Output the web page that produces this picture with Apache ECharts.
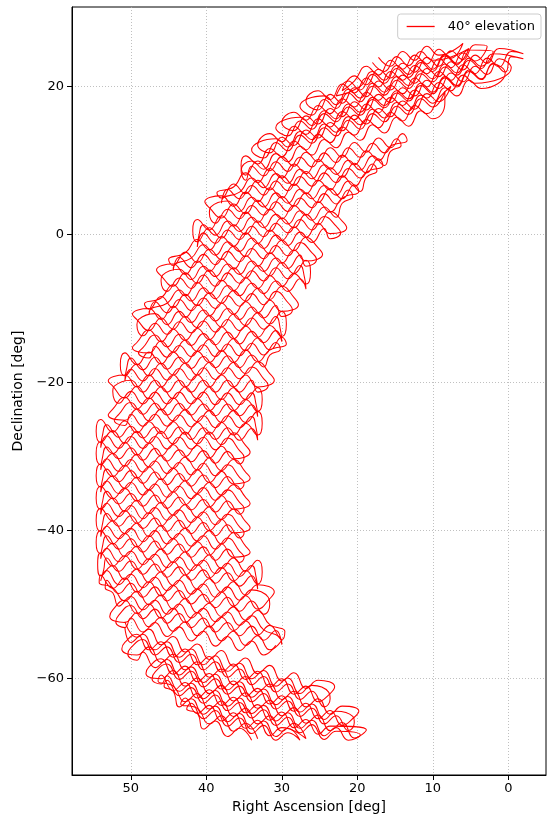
<!DOCTYPE html>
<html><head><meta charset="utf-8">
<script src="https://cdn.jsdelivr.net/npm/echarts@6/dist/echarts.min.js"></script>
<style>html,body{margin:0;padding:0;background:#fff}#c{width:547px;height:819px}</style>
</head><body><div id="c"></div>
<script>
const seriesName = '40° elevation';
const xTicks = [0, 10, 20, 30, 40, 50];
const yTicks = [-60, -40, -20, 0, 20];

// [Right Ascension, Declination] in degrees.
// upper arm of the crescent (first pass)
const topTrack = [
[17.2,23.9],[15.6,22.7],[14.0,24.7],[12.4,23.5],[10.8,25.4],[9.2,24.2],
[6.0,25.8],[7.6,23.8],[9.2,25.0],[10.8,23.0],[12.4,24.2],[14.0,22.3],[15.6,23.5],[17.2,21.5],[18.8,22.7],[20.4,20.7],
[22.0,19.4],[20.4,21.4],[18.8,20.2],[17.2,22.3],[15.6,21.1],[14.0,23.1],[12.4,21.9],[10.8,23.9],[9.2,22.7],[7.6,24.8],[6.0,23.6],[4.4,25.6],
[2.8,25.4],[4.4,23.4],[6.0,24.5],[7.6,22.5],[9.2,23.7],[10.8,21.7],[12.4,22.8],[14.0,20.8],[15.6,22.0],[17.2,19.9],[18.8,21.1],[20.4,19.1],[22.0,20.3],[23.6,18.2],[25.2,19.4],
[26.8,18.0],[25.2,16.8],[23.6,18.9],[22.0,17.7],[20.4,19.8],[18.8,18.6],[17.2,20.7],[15.6,19.5],[14.0,21.5],[12.4,20.4],[10.8,22.4],[9.2,21.3],[7.6,23.3],[6.0,22.2],[4.4,24.2],[2.8,23.1],[1.2,25.1],
[-2.0,24.4],[-0.4,24.7],[1.2,22.6],[2.8,23.8],[4.4,21.7],[6.0,22.9],[7.6,20.8],[9.2,22.0],[10.8,19.9],[12.4,21.1],[14.0,19.0],[15.6,20.1],[17.2,18.1],[18.8,19.2],[20.4,17.2],[22.0,18.3],[23.6,16.3],[25.2,17.4],[26.8,15.4],[28.4,16.5],
[30.0,15.1],[28.4,14.0],[26.8,16.0],[25.2,14.9],[23.6,17.0],[22.0,15.9],[20.4,17.9],[18.8,16.8],[17.2,18.9],[15.6,17.8],[14.0,19.8],[12.4,18.7],[10.8,20.8],[9.2,19.7],[7.6,21.8],[6.0,20.6],[4.4,22.7],[2.8,21.6],[1.2,23.7],[-0.4,22.5],
[4.4,20.4],[6.0,21.5],[7.6,19.4],[9.2,20.5],[10.8,18.4],[12.4,19.5],[14.0,17.4],[15.6,18.5],[17.2,16.4],[18.8,17.6],[20.4,15.5],[22.0,16.6],[23.6,14.5],[25.2,15.6],[26.8,13.5],[28.4,14.6],[30.0,12.5],[31.6,13.6],
[33.2,12.1],[31.6,11.0],[30.0,13.1],[28.4,12.0],[26.8,14.1],[25.2,13.0],[23.6,15.1],[22.0,14.0],[20.4,16.1],[18.8,14.9],[17.2,17.0],[15.6,15.9],[14.0,18.0],[12.4,16.9],[10.8,19.0],[9.2,17.9],[7.6,20.0],
[9.2,18.4],[10.8,16.3],[12.4,17.4],[14.0,15.3],[15.6,16.5],[17.2,14.4],[18.8,15.5],[20.4,13.4],[22.0,14.5],[23.6,12.4],[25.2,13.5],[26.8,11.4],[28.4,12.6],[30.0,10.5],[31.6,11.6],[33.2,9.5],[34.8,10.6]
];

// middle of the crescent (first pass)
const midTrack = [
[35.4,9.3],
[34.8,8.0],[33.2,9.9],[31.6,8.6],[30.0,10.5],[28.4,9.2],[26.8,11.1],[25.2,9.8],[23.6,11.7],[22.0,10.4],[20.4,12.4],[18.8,11.1],[17.2,13.0],[15.6,11.7],[14.0,13.6],
[13.4,12.7],
[15.6,11.9],[17.2,10.0],[18.8,11.3],[20.4,9.4],[22.0,10.7],[23.6,8.8],[25.2,10.1],[26.8,8.2],[28.4,9.5],[30.0,7.6],[31.6,8.9],[33.2,7.0],[34.8,8.3],[36.4,6.4],
[38.6,5.6],
[38.0,4.9],[36.4,6.8],[34.8,5.5],[33.2,7.3],[31.6,6.0],[30.0,7.9],[28.4,6.6],[26.8,8.5],[25.2,7.2],[23.6,9.0],[22.0,7.7],[20.4,9.6],[18.8,8.3],[17.2,10.2],
[16.6,9.3],
[18.8,8.4],[20.4,6.5],[22.0,7.9],[23.6,6.0],[25.2,7.3],[26.8,5.5],[28.4,6.8],[30.0,4.9],[31.6,6.3],[33.2,4.4],[34.8,5.7],[36.4,3.8],[38.0,5.2],
[40.2,4.4],
[39.6,3.6],[38.0,2.2],[36.4,4.1],[34.8,2.8],[33.2,4.6],[31.6,3.3],[30.0,5.1],[28.4,3.8],[26.8,5.6],[25.2,4.3],[23.6,6.2],[22.0,4.8],[20.4,6.7],
[19.8,5.8],
[22.0,4.9],[23.6,3.0],[25.2,4.4],[26.8,2.6],[28.4,3.9],[30.0,2.1],[31.6,3.4],[33.2,1.6],[34.8,3.0],[36.4,1.1],[38.0,2.5],[39.6,0.6],[41.2,2.0],
[41.8,0.5],
[41.2,-1.0],[39.6,0.9],[38.0,-0.5],[36.4,1.3],[34.8,0.0],[33.2,1.8],[31.6,0.4],[30.0,2.2],[28.4,0.9],[26.8,2.7],[25.2,1.3],[23.6,3.1],[22.0,1.8],
[21.4,0.9],
[23.6,0.1],[25.2,1.5],[26.8,-0.4],[28.4,1.0],[30.0,-0.8],[31.6,0.6],[33.2,-1.2],[34.8,0.2],[36.4,-1.6],[38.0,-0.3],[39.6,-2.1],[41.2,-0.7],[42.8,-2.5],
[45.0,-3.4],
[44.4,-4.2],[42.8,-2.4],[41.2,-3.8],[39.6,-2.0],[38.0,-3.4],[36.4,-1.6],[34.8,-3.0],[33.2,-1.2],[31.6,-2.6],[30.0,-0.8],[28.4,-2.2],[26.8,-0.4],[25.2,-1.8],
[24.6,-2.7],
[26.8,-3.6],[28.4,-2.1],[30.0,-3.9],[31.6,-2.5],[33.2,-4.3],[34.8,-2.9],[36.4,-4.7],[38.0,-3.3],[39.6,-5.0],[41.2,-3.6],[42.8,-5.4],[44.4,-4.0],
[46.6,-4.8],
[46.0,-5.6],[44.4,-7.0],[42.8,-5.2],[41.2,-6.6],[39.6,-4.8],[38.0,-6.3],[36.4,-4.5],[34.8,-5.9],[33.2,-4.2],[31.6,-5.6],[30.0,-3.8],[28.4,-5.3],[26.8,-3.5],
[26.2,-5.1],
[26.8,-6.7],[28.4,-5.3],[30.0,-7.0],[31.6,-5.6],[33.2,-7.3],[34.8,-5.9],[36.4,-7.6],[38.0,-6.2],[39.6,-8.0],[41.2,-6.5],[42.8,-8.3],[44.4,-6.8],[46.0,-8.6],
[48.2,-9.4],
[47.6,-10.1],[46.0,-8.4],[44.4,-9.9],[42.8,-8.1],[41.2,-9.6],[39.6,-7.9],[38.0,-9.3],[36.4,-7.6],[34.8,-9.0],[33.2,-7.3],[31.6,-8.8],[30.0,-7.0],[28.4,-8.5],
[27.8,-9.5],
[30.0,-10.4],[31.6,-8.9],[33.2,-10.6],[34.8,-9.1],[36.4,-10.8],[38.0,-9.3],[39.6,-11.0],[41.2,-9.5],[42.8,-11.2],[44.4,-9.7],[46.0,-11.5],[47.6,-10.0],
[49.8,-10.8],
[49.2,-11.5],[47.6,-13.0],[46.0,-11.3],[44.4,-12.8],[42.8,-11.1],[41.2,-12.6],[39.6,-11.0],[38.0,-12.5],[36.4,-10.8],[34.8,-12.3],[33.2,-10.6],[31.6,-12.1],[30.0,-10.4],
[29.4,-12.1],
[30.0,-13.8],[31.6,-12.3],[33.2,-13.9],[34.8,-12.4],[36.4,-14.1],[38.0,-12.5],[39.6,-14.2],[41.2,-12.7],[42.8,-14.3],[44.4,-12.8],[46.0,-14.5],[47.6,-12.9],[49.2,-14.6],
[49.8,-15.3],
[47.6,-16.0],[46.0,-14.4],[44.4,-15.9],[42.8,-14.3],[41.2,-15.8],[39.6,-14.2],[38.0,-15.8],[36.4,-14.1],[34.8,-15.7],[33.2,-14.0],[31.6,-15.6],[30.0,-13.9],
[29.4,-14.8],
[31.6,-15.6],[33.2,-17.2],[34.8,-15.6],[36.4,-17.3],[38.0,-15.7],[39.6,-17.3],[41.2,-15.8],[42.8,-17.4],[44.4,-15.9],[46.0,-17.5],[47.6,-15.9],[49.2,-17.6],[50.8,-16.0],
[51.4,-17.6],
[50.8,-19.1],[49.2,-17.5],[47.6,-19.1],[46.0,-17.4],[44.4,-19.0],[42.8,-17.4],[41.2,-19.0],[39.6,-17.3],[38.0,-18.9],[36.4,-17.3],[34.8,-18.8],[33.2,-17.2],[31.6,-18.8],
[31.0,-19.7],
[33.2,-20.6],[34.8,-19.0],[36.4,-20.6],[38.0,-19.0],[39.6,-20.6],[41.2,-19.0],[42.8,-20.6],[44.4,-19.0],[46.0,-20.6],[47.6,-19.0],[49.2,-20.6],[50.8,-19.0],
[53.0,-19.8],
[52.4,-20.5],[50.8,-22.1],[49.2,-20.5],[47.6,-22.2],[46.0,-20.6],[44.4,-22.2],[42.8,-20.6],[41.2,-22.2],[39.6,-20.6],[38.0,-22.3],[36.4,-20.7],[34.8,-22.3],[33.2,-20.7],
[32.6,-22.3],
[33.2,-23.9],[34.8,-22.3],[36.4,-23.8],[38.0,-22.2],[39.6,-23.8],[41.2,-22.2],[42.8,-23.7],[44.4,-22.1],[46.0,-23.7],[47.6,-22.1],[49.2,-23.6],[50.8,-22.0],[52.4,-23.6],
[53.0,-24.4],
[50.8,-25.1],[49.2,-23.6],[47.6,-25.2],[46.0,-23.6],[44.4,-25.2],[42.8,-23.7],[41.2,-25.3],[39.6,-23.8],[38.0,-25.4],[36.4,-23.8],[34.8,-25.4],[33.2,-23.9],
[32.6,-25.5],
[33.2,-27.1],[34.8,-25.5],[36.4,-27.1],[38.0,-25.4],[39.6,-27.0],[41.2,-25.4],[42.8,-27.0],[44.4,-25.3],[46.0,-26.9],[47.6,-25.3],[49.2,-26.8],[50.8,-25.2],[52.4,-26.7],[54.0,-25.0],
[54.6,-26.6],
[54.0,-28.1],[52.4,-26.5],[50.8,-28.2],[49.2,-26.6],[47.6,-28.2],[46.0,-26.6],[44.4,-28.3],[42.8,-26.7],[41.2,-28.3],[39.6,-26.7],[38.0,-28.4],[36.4,-26.8],[34.8,-28.5],
[34.2,-29.4],
[36.4,-30.3],[38.0,-28.6],[39.6,-30.2],[41.2,-28.5],[42.8,-30.0],[44.4,-28.4],[46.0,-29.9],[47.6,-28.2],[49.2,-29.8],[50.8,-28.1],[52.4,-29.6],[54.0,-28.0],
[54.6,-29.6],
[54.0,-31.1],[52.4,-29.6],[50.8,-31.3],[49.2,-29.7],[47.6,-31.4],[46.0,-29.9],[44.4,-31.6],[42.8,-30.1],[41.2,-31.8],[39.6,-30.2],[38.0,-31.9],[36.4,-30.4],[34.8,-32.1],
[34.2,-32.9],
[36.4,-33.7],[38.0,-32.0],[39.6,-33.5],[41.2,-31.8],[42.8,-33.3],[44.4,-31.6],[46.0,-33.1],[47.6,-31.4],[49.2,-32.9],[50.8,-31.2],[52.4,-32.7],[54.0,-31.0],
[54.6,-32.6],
[54.0,-34.1],[52.4,-32.6],[50.8,-34.3],[49.2,-32.8],[47.6,-34.5],[46.0,-33.0],[44.4,-34.8],[42.8,-33.3],[41.2,-35.0],[39.6,-33.5],[38.0,-35.2],[36.4,-33.8],[34.8,-35.5],
[34.2,-36.3],
[36.4,-37.1],[38.0,-35.3],[39.6,-36.8],[41.2,-35.1],[42.8,-36.5],[44.4,-34.8],[46.0,-36.3],[47.6,-34.5],[49.2,-36.0],[50.8,-34.3],[52.4,-35.7],[54.0,-34.0],
[54.6,-35.6],
[54.0,-37.1],[52.4,-35.6],[50.8,-37.4],[49.2,-35.9],[47.6,-37.7],[46.0,-36.2],[44.4,-37.9],[42.8,-36.5],[41.2,-38.2],[39.6,-36.8],[38.0,-38.5],[36.4,-37.1],[34.8,-38.8],
[34.2,-39.6],
[36.4,-40.3],[38.0,-38.5],[39.6,-40.0],[41.2,-38.2],[42.8,-39.7],[44.4,-37.9],[46.0,-39.4],[47.6,-37.6],[49.2,-39.0],[50.8,-37.3],[52.4,-38.7],[54.0,-37.0],
[54.6,-38.6],
[54.0,-40.1],[52.4,-38.7],[50.8,-40.4],[49.2,-39.0],[47.6,-40.8],[46.0,-39.3],[44.4,-41.1],[42.8,-39.7],[41.2,-41.4],[39.6,-40.0],[38.0,-41.8],[36.4,-40.3],[34.8,-42.1],
[34.2,-42.9],
[36.4,-43.6],[38.0,-41.8],[39.6,-43.3],[41.2,-41.5],[42.8,-42.9],[44.4,-41.1],[46.0,-42.5],[47.6,-40.7],[49.2,-42.2],[50.8,-40.4],[52.4,-41.8],[54.0,-40.0],
[54.6,-41.6],
[54.0,-43.1],[52.4,-41.7],[50.8,-43.5],[49.2,-42.1],[47.6,-43.9],[46.0,-42.5],[44.4,-44.3],[42.8,-42.9],[41.2,-44.7],[39.6,-43.3],[38.0,-45.1],[36.4,-43.7],[34.8,-45.5],[33.2,-44.0],
[32.6,-45.6],
[33.2,-47.2],[34.8,-45.4],[36.4,-46.8],[38.0,-45.0],[39.6,-46.4],[41.2,-44.6],[42.8,-46.0],[44.4,-44.2],[46.0,-45.6],[47.6,-43.8],[49.2,-45.2],[50.8,-43.4],[52.4,-44.8],[54.0,-43.0],
[54.4,-44.6],
[54.0,-46.1],[52.4,-44.7],[50.8,-46.6],[49.2,-45.2],[47.6,-47.0],[46.0,-45.6],[44.4,-47.4],[42.8,-46.0],[41.2,-47.9],[39.6,-46.5],[38.0,-48.3],[36.4,-46.9],[34.8,-48.7],[33.2,-47.3],
[31.0,-48.3],
[31.6,-49.2],[33.2,-50.6],[34.8,-48.8],[36.4,-50.2],[38.0,-48.3],[39.6,-49.7],[41.2,-47.9],[42.8,-49.2],[44.4,-47.4],[46.0,-48.8],[47.6,-46.9],[49.2,-48.3],[50.8,-46.4],[52.4,-47.8],[54.0,-46.0],
[54.2,-47.0],
[52.4,-47.7],[50.8,-49.5],[49.2,-48.2],[47.6,-50.0],[46.0,-48.7],[44.4,-50.6],[42.8,-49.2],[41.2,-51.1],[39.6,-49.8],[38.0,-51.6],[36.4,-50.3],[34.8,-52.1],[33.2,-50.8],[31.6,-52.7],
[29.6,-53.6],
[30.0,-54.7],[31.6,-52.8],[33.2,-54.1],[34.8,-52.2],[36.4,-53.5],[38.0,-51.7],[39.6,-53.0],[41.2,-51.1],[42.8,-52.4],[44.4,-50.5],[46.0,-51.8],[47.6,-49.9],[49.2,-51.2],[50.8,-49.4],[52.4,-50.7],
[52.8,-51.6],
[50.8,-52.4],[49.2,-51.1],[47.6,-53.0],[46.0,-51.7],[44.4,-53.6],[42.8,-52.3],[41.2,-54.2],[39.6,-52.9],[38.0,-54.9],[36.4,-53.6],[34.8,-55.5],[33.2,-54.2],[31.6,-56.1],[30.0,-54.8]
];

// lower arm, converging on the southern tip (first pass)
const bottomTrack = [
[50.8,-52.3],[49.2,-54.4],[47.6,-53.3],[46.0,-55.4],[44.4,-54.3],[42.8,-56.4],[41.2,-55.3],[39.6,-57.4],[38.0,-56.2],[36.4,-58.3],[34.8,-57.2],[33.2,-59.3],[31.6,-58.2],[30.0,-60.3],[28.4,-59.2],[26.8,-61.3],[25.2,-60.2],
[23.0,-61.1],
[23.6,-62.0],[25.2,-63.1],[26.8,-61.0],[28.4,-62.1],[30.0,-60.0],[31.6,-61.1],[33.2,-59.0],[34.8,-60.1],[36.4,-58.0],[38.0,-59.1],[39.6,-57.0],[41.2,-58.1],[42.8,-56.0],[44.4,-57.1],[46.0,-55.0],[47.6,-56.1],[49.2,-54.0],[50.8,-55.1],
[51.2,-56.0],
[49.2,-56.8],[47.6,-55.7],[46.0,-57.8],[44.4,-56.7],[42.8,-58.8],[41.2,-57.7],[39.6,-59.8],[38.0,-58.7],[36.4,-60.8],[34.8,-59.7],[33.2,-61.8],[31.6,-60.7],[30.0,-62.8],[28.4,-61.7],[26.8,-63.8],[25.2,-62.7],[23.6,-64.8],[22.0,-63.7],
[19.8,-64.4],
[20.4,-65.2],[22.0,-66.3],[23.6,-64.3],[25.2,-65.4],[26.8,-63.3],[28.4,-64.4],[30.0,-62.3],[31.6,-63.4],[33.2,-61.3],[34.8,-62.4],[36.4,-60.3],[38.0,-61.4],[39.6,-59.3],[41.2,-60.4],[42.8,-58.3],[44.4,-59.4],[46.0,-57.3],[47.6,-58.4],
[48.0,-59.3],
[46.0,-60.0],[44.4,-58.9],[42.8,-61.0],[41.2,-59.9],[39.6,-62.0],[38.0,-60.9],[36.4,-63.0],[34.8,-61.9],[33.2,-64.0],[31.6,-62.9],[30.0,-65.0],[28.4,-63.9],[26.8,-66.0],[25.2,-64.9],[23.6,-67.0],[22.0,-65.9],[20.4,-68.0],[18.8,-66.9],
[23.6,-66.4],[25.2,-67.5],[26.8,-65.5],[28.4,-66.6],[30.0,-64.5],[31.6,-65.6],[33.2,-63.5],[34.8,-64.6],[36.4,-62.5],[38.0,-63.6],[39.6,-61.5],[41.2,-62.6],[42.8,-60.5],[44.4,-61.6],[46.0,-59.5],
[46.4,-60.3],
[44.4,-61.0],[42.8,-63.1],[41.2,-62.0],[39.6,-64.1],[38.0,-63.0],[36.4,-65.1],[34.8,-64.0],[33.2,-66.1],[31.6,-65.0],[30.0,-67.1],[28.4,-66.0],[26.8,-68.1],
[30.0,-66.6],[31.6,-67.7],[33.2,-65.6],[34.8,-66.7],[36.4,-64.6],[38.0,-65.7],[39.6,-63.6],[41.2,-64.7],[42.8,-62.6],
[43.4,-63.4],
[41.2,-64.0],[39.6,-66.1],[38.0,-65.0],[36.4,-67.1],[34.8,-66.0],[33.2,-68.1]
];

// second, interleaved pass: upper arm
const topTrack2 = [
[18.0,23.2],[16.4,22.0],[14.8,24.0],[13.2,22.8],[11.6,24.7],[10.0,23.5],
[5.2,25.1],[6.8,23.1],[8.4,24.3],[10.0,22.3],[11.6,23.5],[13.2,21.6],[14.8,22.8],[16.4,20.8],[18.0,22.0],[19.6,20.0],
[22.8,18.7],[21.2,20.7],[19.6,19.5],[18.0,21.6],[16.4,20.4],[14.8,22.4],[13.2,21.2],[11.6,23.2],[10.0,22.0],[8.4,24.1],[6.8,22.9],[5.2,24.9],
[2.0,24.7],[3.6,22.7],[5.2,23.8],[6.8,21.8],[8.4,23.0],[10.0,21.0],[11.6,22.1],[13.2,20.1],[14.8,21.3],[16.4,19.2],[18.0,20.4],[19.6,18.4],[21.2,19.6],[22.8,17.5],[24.4,18.7],
[27.6,17.3],[26.0,16.1],[24.4,18.2],[22.8,17.0],[21.2,19.1],[19.6,17.9],[18.0,20.0],[16.4,18.8],[14.8,20.8],[13.2,19.7],[11.6,21.7],[10.0,20.6],[8.4,22.6],[6.8,21.5],[5.2,23.5],[3.6,22.4],[2.0,24.4],
[-2.0,23.7],[-0.4,24.0],[0.4,21.9],[2.0,23.1],[3.6,21.0],[5.2,22.2],[6.8,20.1],[8.4,21.3],[10.0,19.2],[11.6,20.4],[13.2,18.3],[14.8,19.4],[16.4,17.4],[18.0,18.5],[19.6,16.5],[21.2,17.6],[22.8,15.6],[24.4,16.7],[26.0,14.7],[27.6,15.8],
[30.8,14.4],[29.2,13.3],[27.6,15.3],[26.0,14.2],[24.4,16.3],[22.8,15.2],[21.2,17.2],[19.6,16.1],[18.0,18.2],[16.4,17.1],[14.8,19.1],[13.2,18.0],[11.6,20.1],[10.0,19.0],[8.4,21.1],[6.8,19.9],[5.2,22.0],[3.6,20.9],[2.0,23.0],[0.4,21.8],
[3.6,19.7],[5.2,20.8],[6.8,18.7],[8.4,19.8],[10.0,17.7],[11.6,18.8],[13.2,16.7],[14.8,17.8],[16.4,15.7],[18.0,16.9],[19.6,14.8],[21.2,15.9],[22.8,13.8],[24.4,14.9],[26.0,12.8],[27.6,13.9],[29.2,11.8],[30.8,12.9],
[34.0,11.4],[32.4,10.3],[30.8,12.4],[29.2,11.3],[27.6,13.4],[26.0,12.3],[24.4,14.4],[22.8,13.3],[21.2,15.4],[19.6,14.2],[18.0,16.3],[16.4,15.2],[14.8,17.3],[13.2,16.2],[11.6,18.3],[10.0,17.2],[8.4,19.3],
[8.4,17.7],[10.0,15.6],[11.6,16.7],[13.2,14.6],[14.8,15.8],[16.4,13.7],[18.0,14.8],[19.6,12.7],[21.2,13.8],[22.8,11.7],[24.4,12.8],[26.0,10.7],[27.6,11.9],[29.2,9.8],[30.8,10.9],[32.4,8.8],[34.0,9.9]
];

// second pass: middle of the crescent
const midTrack2 = [
[35.4,8.6],
[34.8,7.3],[34.0,9.2],[32.4,7.9],[30.8,9.8],[29.2,8.5],[27.6,10.4],[26.0,9.1],[24.4,11.0],[22.8,9.7],[21.2,11.7],[19.6,10.4],[18.0,12.3],[16.4,11.0],[14.8,12.9],
[14.2,12.0],
[15.6,11.2],[16.4,9.3],[18.0,10.6],[19.6,8.7],[21.2,10.0],[22.8,8.1],[24.4,9.4],[26.0,7.5],[27.6,8.8],[29.2,6.9],[30.8,8.2],[32.4,6.3],[34.0,7.6],[35.6,5.7],
[37.8,4.9],
[38.0,4.2],[37.2,6.1],[35.6,4.8],[34.0,6.6],[32.4,5.3],[30.8,7.2],[29.2,5.9],[27.6,7.8],[26.0,6.5],[24.4,8.3],[22.8,7.0],[21.2,8.9],[19.6,7.6],[18.0,9.5],
[17.4,8.6],
[18.8,7.7],[19.6,5.8],[21.2,7.2],[22.8,5.3],[24.4,6.6],[26.0,4.8],[27.6,6.1],[29.2,4.2],[30.8,5.6],[32.4,3.7],[34.0,5.0],[35.6,3.1],[37.2,4.5],
[39.4,3.7],
[39.6,2.9],[38.8,1.5],[37.2,3.4],[35.6,2.1],[34.0,3.9],[32.4,2.6],[30.8,4.4],[29.2,3.1],[27.6,4.9],[26.0,3.6],[24.4,5.5],[22.8,4.1],[21.2,6.0],
[20.6,5.1],
[22.0,4.2],[22.8,2.3],[24.4,3.7],[26.0,1.9],[27.6,3.2],[29.2,1.4],[30.8,2.7],[32.4,0.9],[34.0,2.3],[35.6,0.4],[37.2,1.8],[38.8,-0.1],[40.4,1.3],
[41.0,-0.2],
[41.2,-1.7],[40.4,0.2],[38.8,-1.2],[37.2,0.6],[35.6,-0.7],[34.0,1.1],[32.4,-0.3],[30.8,1.5],[29.2,0.2],[27.6,2.0],[26.0,0.6],[24.4,2.4],[22.8,1.1],
[22.2,0.2],
[23.6,-0.6],[24.4,0.8],[26.0,-1.1],[27.6,0.3],[29.2,-1.5],[30.8,-0.1],[32.4,-1.9],[34.0,-0.5],[35.6,-2.3],[37.2,-1.0],[38.8,-2.8],[40.4,-1.4],[42.0,-3.2],
[44.2,-4.1],
[44.4,-4.9],[43.6,-3.1],[42.0,-4.5],[40.4,-2.7],[38.8,-4.1],[37.2,-2.3],[35.6,-3.7],[34.0,-1.9],[32.4,-3.3],[30.8,-1.5],[29.2,-2.9],[27.6,-1.1],[26.0,-2.5],
[25.4,-3.4],
[26.8,-4.3],[27.6,-2.8],[29.2,-4.6],[30.8,-3.2],[32.4,-5.0],[34.0,-3.6],[35.6,-5.4],[37.2,-4.0],[38.8,-5.7],[40.4,-4.3],[42.0,-6.1],[43.6,-4.7],
[45.8,-5.5],
[46.0,-6.3],[45.2,-7.7],[43.6,-5.9],[42.0,-7.3],[40.4,-5.5],[38.8,-7.0],[37.2,-5.2],[35.6,-6.6],[34.0,-4.9],[32.4,-6.3],[30.8,-4.5],[29.2,-6.0],[27.6,-4.2],
[27.0,-5.8],
[26.8,-7.4],[27.6,-6.0],[29.2,-7.7],[30.8,-6.3],[32.4,-8.0],[34.0,-6.6],[35.6,-8.3],[37.2,-6.9],[38.8,-8.7],[40.4,-7.2],[42.0,-9.0],[43.6,-7.5],[45.2,-9.3],
[47.4,-10.1],
[47.6,-10.8],[46.8,-9.1],[45.2,-10.6],[43.6,-8.8],[42.0,-10.3],[40.4,-8.6],[38.8,-10.0],[37.2,-8.3],[35.6,-9.7],[34.0,-8.0],[32.4,-9.5],[30.8,-7.7],[29.2,-9.2],
[28.6,-10.2],
[30.0,-11.1],[30.8,-9.6],[32.4,-11.3],[34.0,-9.8],[35.6,-11.5],[37.2,-10.0],[38.8,-11.7],[40.4,-10.2],[42.0,-11.9],[43.6,-10.4],[45.2,-12.2],[46.8,-10.7],
[49.0,-11.5],
[49.2,-12.2],[48.4,-13.7],[46.8,-12.0],[45.2,-13.5],[43.6,-11.8],[42.0,-13.3],[40.4,-11.7],[38.8,-13.2],[37.2,-11.5],[35.6,-13.0],[34.0,-11.3],[32.4,-12.8],[30.8,-11.1],
[30.2,-12.8],
[30.0,-14.5],[30.8,-13.0],[32.4,-14.6],[34.0,-13.1],[35.6,-14.8],[37.2,-13.2],[38.8,-14.9],[40.4,-13.4],[42.0,-15.0],[43.6,-13.5],[45.2,-15.2],[46.8,-13.6],[48.4,-15.3],
[49.0,-16.0],
[47.6,-16.7],[46.8,-15.1],[45.2,-16.6],[43.6,-15.0],[42.0,-16.5],[40.4,-14.9],[38.8,-16.5],[37.2,-14.8],[35.6,-16.4],[34.0,-14.7],[32.4,-16.3],[30.8,-14.6],
[30.2,-15.5],
[31.6,-16.3],[32.4,-17.9],[34.0,-16.3],[35.6,-18.0],[37.2,-16.4],[38.8,-18.0],[40.4,-16.5],[42.0,-18.1],[43.6,-16.6],[45.2,-18.2],[46.8,-16.6],[48.4,-18.3],[50.0,-16.7],
[50.6,-18.3],
[50.8,-19.8],[50.0,-18.2],[48.4,-19.8],[46.8,-18.1],[45.2,-19.7],[43.6,-18.1],[42.0,-19.7],[40.4,-18.0],[38.8,-19.6],[37.2,-18.0],[35.6,-19.5],[34.0,-17.9],[32.4,-19.5],
[31.8,-20.4],
[33.2,-21.3],[34.0,-19.7],[35.6,-21.3],[37.2,-19.7],[38.8,-21.3],[40.4,-19.7],[42.0,-21.3],[43.6,-19.7],[45.2,-21.3],[46.8,-19.7],[48.4,-21.3],[50.0,-19.7],
[52.2,-20.5],
[52.4,-21.2],[51.6,-22.8],[50.0,-21.2],[48.4,-22.9],[46.8,-21.3],[45.2,-22.9],[43.6,-21.3],[42.0,-22.9],[40.4,-21.3],[38.8,-23.0],[37.2,-21.4],[35.6,-23.0],[34.0,-21.4],
[33.4,-23.0],
[33.2,-24.6],[34.0,-23.0],[35.6,-24.5],[37.2,-22.9],[38.8,-24.5],[40.4,-22.9],[42.0,-24.4],[43.6,-22.8],[45.2,-24.4],[46.8,-22.8],[48.4,-24.3],[50.0,-22.7],[51.6,-24.3],
[52.2,-25.1],
[50.8,-25.8],[50.0,-24.3],[48.4,-25.9],[46.8,-24.3],[45.2,-25.9],[43.6,-24.4],[42.0,-26.0],[40.4,-24.5],[38.8,-26.1],[37.2,-24.5],[35.6,-26.1],[34.0,-24.6],
[33.4,-26.2],
[33.2,-27.8],[34.0,-26.2],[35.6,-27.8],[37.2,-26.1],[38.8,-27.7],[40.4,-26.1],[42.0,-27.7],[43.6,-26.0],[45.2,-27.6],[46.8,-26.0],[48.4,-27.5],[50.0,-25.9],[51.6,-27.4],[53.2,-25.7],
[53.8,-27.3],
[54.0,-28.8],[53.2,-27.2],[51.6,-28.9],[50.0,-27.3],[48.4,-28.9],[46.8,-27.3],[45.2,-29.0],[43.6,-27.4],[42.0,-29.0],[40.4,-27.4],[38.8,-29.1],[37.2,-27.5],[35.6,-29.2],
[35.0,-30.1],
[35.6,-31.0],[37.2,-29.3],[38.8,-30.9],[40.4,-29.2],[42.0,-30.7],[43.6,-29.1],[45.2,-30.6],[46.8,-28.9],[48.4,-30.5],[50.0,-28.8],[51.6,-30.3],[53.2,-28.7],
[53.8,-30.3],
[54.0,-31.8],[53.2,-30.3],[51.6,-32.0],[50.0,-30.4],[48.4,-32.1],[46.8,-30.6],[45.2,-32.3],[43.6,-30.8],[42.0,-32.5],[40.4,-30.9],[38.8,-32.6],[37.2,-31.1],[35.6,-32.8],
[35.0,-33.6],
[35.6,-34.4],[37.2,-32.7],[38.8,-34.2],[40.4,-32.5],[42.0,-34.0],[43.6,-32.3],[45.2,-33.8],[46.8,-32.1],[48.4,-33.6],[50.0,-31.9],[51.6,-33.4],[53.2,-31.7],
[53.8,-33.3],
[54.0,-34.8],[53.2,-33.3],[51.6,-35.0],[50.0,-33.5],[48.4,-35.2],[46.8,-33.7],[45.2,-35.5],[43.6,-34.0],[42.0,-35.7],[40.4,-34.2],[38.8,-35.9],[37.2,-34.5],[35.6,-36.2],
[35.0,-37.0],
[35.6,-37.8],[37.2,-36.0],[38.8,-37.5],[40.4,-35.8],[42.0,-37.2],[43.6,-35.5],[45.2,-37.0],[46.8,-35.2],[48.4,-36.7],[50.0,-35.0],[51.6,-36.4],[53.2,-34.7],
[53.8,-36.3],
[54.0,-37.8],[53.2,-36.3],[51.6,-38.1],[50.0,-36.6],[48.4,-38.4],[46.8,-36.9],[45.2,-38.6],[43.6,-37.2],[42.0,-38.9],[40.4,-37.5],[38.8,-39.2],[37.2,-37.8],[35.6,-39.5],
[35.0,-40.3],
[35.6,-41.0],[37.2,-39.2],[38.8,-40.7],[40.4,-38.9],[42.0,-40.4],[43.6,-38.6],[45.2,-40.1],[46.8,-38.3],[48.4,-39.7],[50.0,-38.0],[51.6,-39.4],[53.2,-37.7],
[53.8,-39.3],
[54.0,-40.8],[53.2,-39.4],[51.6,-41.1],[50.0,-39.7],[48.4,-41.5],[46.8,-40.0],[45.2,-41.8],[43.6,-40.4],[42.0,-42.1],[40.4,-40.7],[38.8,-42.5],[37.2,-41.0],[35.6,-42.8],
[35.0,-43.6],
[35.6,-44.3],[37.2,-42.5],[38.8,-44.0],[40.4,-42.2],[42.0,-43.6],[43.6,-41.8],[45.2,-43.2],[46.8,-41.4],[48.4,-42.9],[50.0,-41.1],[51.6,-42.5],[53.2,-40.7],
[53.8,-42.3],
[54.0,-43.8],[53.2,-42.4],[51.6,-44.2],[50.0,-42.8],[48.4,-44.6],[46.8,-43.2],[45.2,-45.0],[43.6,-43.6],[42.0,-45.4],[40.4,-44.0],[38.8,-45.8],[37.2,-44.4],[35.6,-46.2],[34.0,-44.7],
[33.4,-46.3],
[33.2,-47.9],[34.0,-46.1],[35.6,-47.5],[37.2,-45.7],[38.8,-47.1],[40.4,-45.3],[42.0,-46.7],[43.6,-44.9],[45.2,-46.3],[46.8,-44.5],[48.4,-45.9],[50.0,-44.1],[51.6,-45.5],[53.2,-43.7],
[53.6,-45.3],
[54.0,-46.8],[53.2,-45.4],[51.6,-47.3],[50.0,-45.9],[48.4,-47.7],[46.8,-46.3],[45.2,-48.1],[43.6,-46.7],[42.0,-48.6],[40.4,-47.2],[38.8,-49.0],[37.2,-47.6],[35.6,-49.4],[34.0,-48.0],
[31.8,-49.0],
[31.6,-49.9],[32.4,-51.3],[34.0,-49.5],[35.6,-50.9],[37.2,-49.0],[38.8,-50.4],[40.4,-48.6],[42.0,-49.9],[43.6,-48.1],[45.2,-49.5],[46.8,-47.6],[48.4,-49.0],[50.0,-47.1],[51.6,-48.5],[53.2,-46.7],
[53.4,-47.7],
[52.4,-48.4],[51.6,-50.2],[50.0,-48.9],[48.4,-50.7],[46.8,-49.4],[45.2,-51.3],[43.6,-49.9],[42.0,-51.8],[40.4,-50.5],[38.8,-52.3],[37.2,-51.0],[35.6,-52.8],[34.0,-51.5],[32.4,-53.4],
[30.4,-54.3],
[30.0,-55.4],[30.8,-53.5],[32.4,-54.8],[34.0,-52.9],[35.6,-54.2],[37.2,-52.4],[38.8,-53.7],[40.4,-51.8],[42.0,-53.1],[43.6,-51.2],[45.2,-52.5],[46.8,-50.6],[48.4,-51.9],[50.0,-50.1],[51.6,-51.4],
[52.0,-52.3],
[50.8,-53.1],[50.0,-51.8],[48.4,-53.7],[46.8,-52.4],[45.2,-54.3],[43.6,-53.0],[42.0,-54.9],[40.4,-53.6],[38.8,-55.6],[37.2,-54.3],[35.6,-56.2],[34.0,-54.9],[32.4,-56.8],[30.8,-55.5]
];

// second pass: lower arm
const bottomTrack2 = [
[50.8,-53.0],[50.0,-55.1],[48.4,-54.0],[46.8,-56.1],[45.2,-55.0],[43.6,-57.1],[42.0,-56.0],[40.4,-58.1],[38.8,-56.9],[37.2,-59.0],[35.6,-57.9],[34.0,-60.0],[32.4,-58.9],[30.8,-61.0],[29.2,-59.9],[27.6,-62.0],[26.0,-60.9],
[23.8,-61.8],
[23.6,-62.7],[24.4,-63.8],[26.0,-61.7],[27.6,-62.8],[29.2,-60.7],[30.8,-61.8],[32.4,-59.7],[34.0,-60.8],[35.6,-58.7],[37.2,-59.8],[38.8,-57.7],[40.4,-58.8],[42.0,-56.7],[43.6,-57.8],[45.2,-55.7],[46.8,-56.8],[48.4,-54.7],[50.0,-55.8],
[50.4,-56.7],
[49.2,-57.5],[48.4,-56.4],[46.8,-58.5],[45.2,-57.4],[43.6,-59.5],[42.0,-58.4],[40.4,-60.5],[38.8,-59.4],[37.2,-61.5],[35.6,-60.4],[34.0,-62.5],[32.4,-61.4],[30.8,-63.5],[29.2,-62.4],[27.6,-64.5],[26.0,-63.4],[24.4,-65.5],[22.8,-64.4],
[20.6,-65.1],
[20.4,-65.9],[21.2,-67.0],[22.8,-65.0],[24.4,-66.1],[26.0,-64.0],[27.6,-65.1],[29.2,-63.0],[30.8,-64.1],[32.4,-62.0],[34.0,-63.1],[35.6,-61.0],[37.2,-62.1],[38.8,-60.0],[40.4,-61.1],[42.0,-59.0],[43.6,-60.1],[45.2,-58.0],[46.8,-59.1],
[47.2,-60.0],
[46.0,-60.7],[45.2,-59.6],[43.6,-61.7],[42.0,-60.6],[40.4,-62.7],[38.8,-61.6],[37.2,-63.7],[35.6,-62.6],[34.0,-64.7],[32.4,-63.6],[30.8,-65.7],[29.2,-64.6],[27.6,-66.7],[26.0,-65.6],[24.4,-67.7],[22.8,-66.6],[21.2,-68.3],[19.6,-67.6],
[22.8,-67.1],[24.4,-68.2],[26.0,-66.2],[27.6,-67.3],[29.2,-65.2],[30.8,-66.3],[32.4,-64.2],[34.0,-65.3],[35.6,-63.2],[37.2,-64.3],[38.8,-62.2],[40.4,-63.3],[42.0,-61.2],[43.6,-62.3],[45.2,-60.2],
[45.6,-61.0],
[44.4,-61.7],[43.6,-63.8],[42.0,-62.7],[40.4,-64.8],[38.8,-63.7],[37.2,-65.8],[35.6,-64.7],[34.0,-66.8],[32.4,-65.7],[30.8,-67.8],[29.2,-66.7],[27.6,-68.3],
[29.2,-67.3],[30.8,-68.3],[32.4,-66.3],[34.0,-67.4],[35.6,-65.3],[37.2,-66.4],[38.8,-64.3],[40.4,-65.4],[42.0,-63.3],
[42.6,-64.1],
[41.2,-64.7],[40.4,-66.8],[38.8,-65.7],[37.2,-67.8],[35.6,-66.7],[34.0,-68.3]
];

const chart = echarts.init(document.getElementById('c'), null, {renderer: 'canvas'});
const FONT = 'DejaVu Sans';
const minusFmt = v => (v < 0 ? '\u2212' + Math.abs(v) : String(v));
const makeSeries = data => ({
  type: 'line', name: seriesName, data: data, smooth: 0.5, symbol: 'none', showSymbol: false,
  lineStyle: {color: '#ff0000', width: 1.05}, itemStyle: {color: '#ff0000'},
  clip: true, animation: false, silent: true
});
const gridLine = {show: true, lineStyle: {color: '#b0b0b0', width: 0.8, type: [1, 2]}};
const option = {
  animation: false,
  backgroundColor: '#ffffff',
  grid: {left: 72, top: 7, width: 474, height: 768, show: true, borderColor: '#000', borderWidth: 1},
  legend: {
    data: [seriesName], right: 6, top: 14, icon: 'rect', itemWidth: 28, itemHeight: 1.3,
    textStyle: {fontFamily: FONT, fontSize: 13, color: '#000', padding: [0, 10, 0, 8]},
    borderColor: '#cccccc', borderWidth: 1, borderRadius: 3, padding: [6, 6, 6, 9],
    backgroundColor: 'rgba(255,255,255,0.8)'
  },
  xAxis: {
    type: 'value', inverse: true, min: -5.0, max: 57.8, splitNumber: 6, minInterval: 10, maxInterval: 10,
    name: 'Right Ascension [deg]', nameLocation: 'middle', nameGap: 25,
    nameTextStyle: {fontFamily: FONT, fontSize: 14, color: '#000'},
    axisLine: {show: true, onZero: false, lineStyle: {color: '#000', width: 1}},
    axisTick: {show: true, length: 5, lineStyle: {color: '#000', width: 1}, customValues: xTicks},
    axisLabel: {fontFamily: FONT, fontSize: 13, color: '#000', margin: 7, formatter: minusFmt, customValues: xTicks},
    splitLine: gridLine
  },
  yAxis: {
    type: 'value', min: -73.0, max: 30.7, splitNumber: 5, minInterval: 20, maxInterval: 20,
    name: 'Declination [deg]', nameLocation: 'middle', nameGap: 46,
    nameTextStyle: {fontFamily: FONT, fontSize: 14, color: '#000'},
    axisLine: {show: true, onZero: false, lineStyle: {color: '#000', width: 1}},
    axisTick: {show: true, length: 5, lineStyle: {color: '#000', width: 1}, customValues: yTicks},
    axisLabel: {fontFamily: FONT, fontSize: 13, color: '#000', margin: 8, formatter: minusFmt, customValues: yTicks},
    splitLine: gridLine
  },
  series: [
    makeSeries(topTrack.concat(midTrack)),
    makeSeries(bottomTrack),
    makeSeries(topTrack2.concat(midTrack2)),
    makeSeries(bottomTrack2)
  ]
};
chart.setOption(option);
</script></body></html>
